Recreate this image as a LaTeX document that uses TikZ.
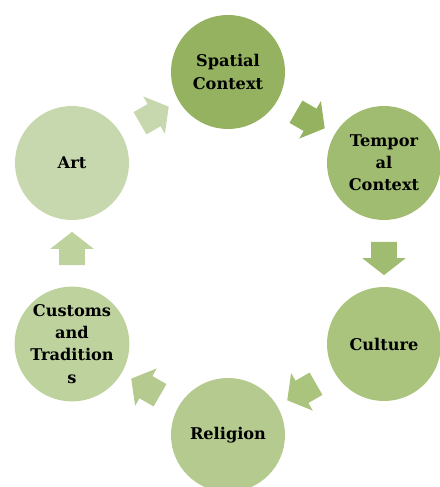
\documentclass[tikz,border=0pt]{standalone}
\usepackage{fontspec}
\setmainfont{DejaVu Serif}
\usepackage{xcolor}
\usepackage{tikz}
\usetikzlibrary{calc, shapes.arrows}

\definecolor{spatialc}{HTML}{94B25F}
\definecolor{temporalc}{HTML}{A0BC70}
\definecolor{culturec}{HTML}{AAC47E}
\definecolor{religionc}{HTML}{B4CA8E}
\definecolor{customsc}{HTML}{BED29E}
\definecolor{artc}{HTML}{C8D8AE}

\begin{document}
\begin{tikzpicture}[
  stage/.style={
    circle,
    fill=#1,
    draw=none,
    minimum size=2.85cm,
    inner sep=0pt,
    font=\fontsize{11.5}{15.8}\selectfont\bfseries,
    align=center
  },
  flow/.style={
    single arrow,
    fill=#1,
    draw=none,
    minimum height=0.83cm,
    inner xsep=0pt,
    inner ysep=0.315cm,
    single arrow head extend=0.22cm,
    single arrow tip angle=104
  }
]
\useasboundingbox (0,0) rectangle (11,12.175);

% Stages of the cycle
\node[stage=spatialc] (sp) at (5.7,10.375) {Spatial\\Context};
\node[stage=temporalc] (te) at (9.6,8.1) {Tempor\\al\\Context};
\node[stage=culturec] (cu) at (9.6,3.575) {Culture};
\node[stage=religionc] (re) at (5.7,1.3) {Religion};
\node[stage=customsc] (ct) at (1.8,3.575) {Customs\\and\\Tradition\\s};
\node[stage=artc] (ar) at (1.8,8.1) {Art};

% Block arrows between stages
\node[flow=spatialc, rotate=-30] (a1) at ($(sp)!0.5!(te)$) {};
\node[flow=temporalc, rotate=-90] (a2) at ($(te)!0.5!(cu)$) {};
\node[flow=culturec, rotate=-150] (a3) at ($(cu)!0.5!(re)$) {};
\node[flow=religionc, rotate=150] (a4) at ($(re)!0.5!(ct)$) {};
\node[flow=customsc, rotate=90] (a5) at ($(ct)!0.5!(ar)$) {};
\node[flow=artc, rotate=30] (a6) at ($(ar)!0.5!(sp)$) {};

\end{tikzpicture}
\end{document}
